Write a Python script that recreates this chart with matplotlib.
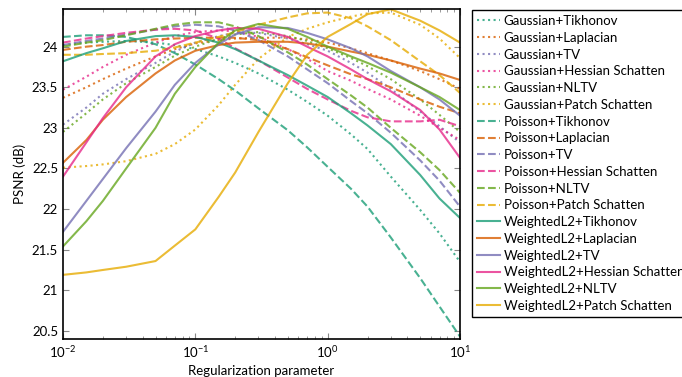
import numpy as np
import matplotlib
matplotlib.use('Agg')
import matplotlib.pyplot as plt
from matplotlib.ticker import FormatStrFormatter

plt.rcParams['font.family'] = ['Lato', 'DejaVu Sans']
plt.rcParams['mathtext.fontset'] = 'dejavusans'

# regularization parameter grid
lam = [0.01, 0.015, 0.02, 0.03, 0.05, 0.07, 0.1, 0.15, 0.2, 0.3,
       0.5, 0.7, 1.0, 1.5, 2.0, 3.0, 5.0, 7.0, 10.0]

regs = ['Tikhonov', 'Laplacian', 'TV', 'Hessian Schatten', 'NLTV', 'Patch Schatten']
fits = ['Gaussian', 'Poisson', 'WeightedL2']
colors = ['#1b9e77', '#d95f02', '#7570b3', '#e7298a', '#66a61e', '#e6ab02']
styles = {'Gaussian': ':', 'Poisson': '--', 'WeightedL2': '-'}

# PSNR values
gauss = [
    [24.02, 24.05, 24.06, 24.07, 24.05, 24.02, 23.97, 23.88, 23.80, 23.67,
     23.47, 23.32, 23.15, 22.92, 22.74, 22.40, 21.99, 21.70, 21.35],
    [23.37, 23.50, 23.60, 23.73, 23.88, 23.97, 24.04, 24.08, 24.10, 24.11,
     24.11, 24.09, 24.05, 23.98, 23.92, 23.83, 23.70, 23.60, 23.48],
    [23.04, 23.25, 23.42, 23.60, 23.80, 23.94, 24.05, 24.13, 24.17, 24.17,
     24.10, 24.03, 23.95, 23.80, 23.68, 23.48, 23.20, 23.02, 22.82],
    [23.47, 23.63, 23.75, 23.90, 24.05, 24.13, 24.18, 24.20, 24.19, 24.12,
     23.97, 23.85, 23.70, 23.58, 23.48, 23.35, 23.15, 23.00, 22.85],
    [22.95, 23.18, 23.35, 23.55, 23.75, 23.89, 24.00, 24.10, 24.15, 24.18,
     24.13, 24.07, 23.98, 23.86, 23.76, 23.60, 23.35, 23.16, 22.95],
    [22.51, 22.53, 22.55, 22.59, 22.68, 22.80, 22.98, 23.28, 23.53, 23.85,
     24.12, 24.22, 24.30, 24.37, 24.41, 24.42, 24.27, 24.10, 23.86],
]
poisson = [
    [24.12, 24.14, 24.14, 24.12, 24.03, 23.92, 23.78, 23.60, 23.46, 23.24,
     22.97, 22.76, 22.52, 22.25, 22.03, 21.65, 21.15, 20.80, 20.43],
    [23.96, 24.00, 24.02, 24.06, 24.09, 24.10, 24.11, 24.11, 24.11, 24.08,
     23.97, 23.87, 23.77, 23.66, 23.60, 23.50, 23.35, 23.26, 23.18],
    [24.02, 24.07, 24.10, 24.15, 24.21, 24.25, 24.27, 24.25, 24.20, 24.08,
     23.88, 23.72, 23.55, 23.33, 23.18, 22.94, 22.60, 22.35, 22.03],
    [24.05, 24.10, 24.13, 24.17, 24.21, 24.22, 24.20, 24.10, 23.98, 23.83,
     23.62, 23.48, 23.35, 23.21, 23.13, 23.08, 23.08, 23.10, 23.02],
    [24.00, 24.05, 24.08, 24.14, 24.22, 24.27, 24.30, 24.30, 24.25, 24.13,
     23.93, 23.78, 23.60, 23.40, 23.25, 23.00, 22.70, 22.48, 22.20],
    [23.90, 23.90, 23.91, 23.92, 23.95, 23.99, 24.05, 24.12, 24.18, 24.27,
     24.36, 24.41, 24.42, 24.35, 24.25, 24.08, 23.82, 23.65, 23.43],
]
weighted = [
    [23.82, 23.92, 23.98, 24.07, 24.13, 24.14, 24.12, 24.05, 23.97, 23.83,
     23.65, 23.52, 23.38, 23.18, 23.03, 22.80, 22.42, 22.13, 21.89],
    [22.57, 22.85, 23.10, 23.38, 23.67, 23.83, 23.95, 24.02, 24.05, 24.06,
     24.06, 24.04, 24.00, 23.94, 23.90, 23.83, 23.73, 23.67, 23.59],
    [21.72, 22.10, 22.37, 22.75, 23.20, 23.53, 23.80, 24.03, 24.15, 24.24,
     24.23, 24.17, 24.09, 23.98, 23.88, 23.70, 23.50, 23.35, 23.15],
    [22.40, 22.82, 23.12, 23.50, 23.88, 24.03, 24.13, 24.20, 24.23, 24.22,
     24.12, 24.00, 23.88, 23.72, 23.60, 23.45, 23.22, 22.98, 22.63],
    [21.54, 21.85, 22.10, 22.50, 23.00, 23.42, 23.75, 24.05, 24.20, 24.28,
     24.22, 24.12, 24.00, 23.88, 23.80, 23.68, 23.50, 23.38, 23.22],
    [21.19, 21.22, 21.25, 21.29, 21.36, 21.55, 21.75, 22.15, 22.45, 22.95,
     23.55, 23.90, 24.12, 24.28, 24.40, 24.46, 24.32, 24.20, 24.05],
]
psnr = {'Gaussian': gauss, 'Poisson': poisson, 'WeightedL2': weighted}

fig = plt.figure(figsize=(6.82, 3.77), dpi=100)
ax = fig.add_axes([0.0924, 0.1008, 0.5821, 0.8745])

for fit in fits:
    for i, reg in enumerate(regs):
        ax.plot(lam, psnr[fit][i], linestyle=styles[fit], color=colors[i],
                alpha=0.8, lw=1.5, label=fit + '+' + reg)

ax.set_xscale('log')
ax.set_xlim(0.01, 10)
ax.set_ylim(20.4, 24.46)
ax.set_yticks(np.arange(20.5, 24.01, 0.5))
ax.yaxis.set_major_formatter(FormatStrFormatter('%g'))
ax.tick_params(which='both', direction='in', top=True, right=True,
               color='#888888', labelsize=9.5)
ax.tick_params(which='major', length=4)
ax.tick_params(which='minor', length=2.5)
for s in ax.spines.values():
    s.set_linewidth(1.2)
ax.set_xlabel('Regularization parameter', fontsize=9.5)
ax.set_ylabel('PSNR (dB)', fontsize=9.5)

leg = fig.legend(loc='upper left', bbox_to_anchor=(0.692, 0.974),
                 fontsize=9.5, fancybox=False, edgecolor='black',
                 framealpha=1, borderpad=0.4, labelspacing=0.36,
                 handlelength=1.7, handletextpad=0.3, borderaxespad=0)
leg.get_frame().set_linewidth(1.0)

fig.savefig('out.png', dpi=100)
